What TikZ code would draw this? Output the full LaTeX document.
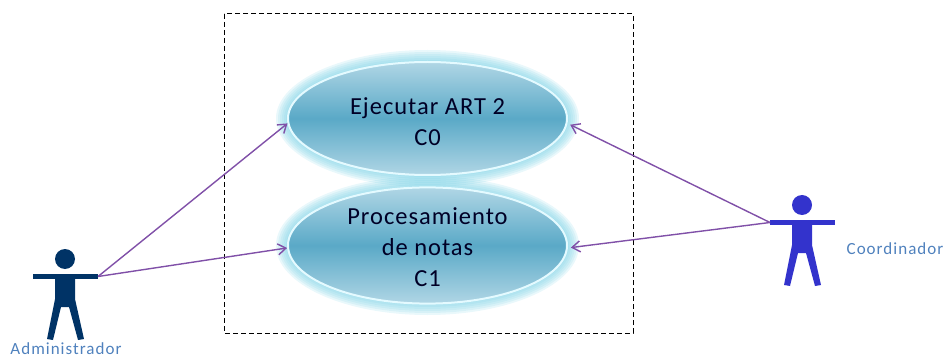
\documentclass[tikz,border=0pt]{standalone}
\usepackage{fontspec}
\setmainfont{Carlito}
\usetikzlibrary{shapes.geometric,arrows.meta}
\definecolor{glowblue}{HTML}{7FD3E6}
\definecolor{casetop}{HTML}{B0D6E5}
\definecolor{casemid}{HTML}{5AA9C7}
\definecolor{caserim}{HTML}{E4FAFF}
\definecolor{linkpurple}{HTML}{8050A8}
\definecolor{adminblue}{HTML}{003366}
\definecolor{coordblue}{HTML}{3333CC}
\definecolor{actortext}{HTML}{4F81BD}
\tikzset{
    usecase/.style={ellipse,draw=caserim,line width=2pt,inner sep=0pt,minimum width=279pt,
        top color=casetop,bottom color=casetop,middle color=casemid,align=center,
        font=\fontsize{24.5}{31}\selectfont\addfontfeatures{LetterSpace=4},text=black!85!blue},
    actorlabel/.style={inner sep=0pt,font=\fontsize{17}{19}\selectfont\addfontfeatures{LetterSpace=6},text=actortext},
    link/.style={linkpurple,line width=1.4pt,-{Straight Barb[length=8pt,width=11pt]}},
    actorfig/.pic={
        \fill (0,0) circle[radius=10];
        \fill (-32,15) rectangle (33,20);
        \fill (-10,20) -- (10,20) -- (10,40) -- (19,80) -- (13,81) -- (4,48) -- (-4,48)
            -- (-12,81) -- (-18,80) -- (-10,40) -- cycle;
        \coordinate (-lefthand) at (-32,17.5);
        \coordinate (-righthand) at (33,17.5);
    }
}
\begin{document}
\begin{tikzpicture}[x=1pt,y=-1pt]
        \useasboundingbox (0,0) rectangle (947,358);
        % halo behind the two use cases
        \foreach \cy/\ry in {118.5/56.5,245.5/57.5}{
            \foreach \g in {2,4,...,12}{
                \fill[glowblue,opacity=0.17] (427.5,\cy) circle[x radius=139.5+\g,y radius=\ry+\g];
            }
        }
        \draw[dash pattern=on 5pt off 3pt,line width=1pt] (224,14) rectangle (633,333);
        \node[usecase,minimum height=113pt] (ejecutar) at (427.5,118.5) {\rule{0pt}{24pt}Ejecutar ART 2\\C0};
        \node[usecase,minimum height=115pt] (procesamiento) at (427.5,245.5) {\rule{0pt}{20pt}Procesamiento\\de notas\\C1};
        \pic[adminblue] (admin) at (65,259) {actorfig};
        \pic[coordblue] (coord) at (802,205) {actorfig};
        \node[actorlabel] (adminlabel) at (66,349) {Administrador};
        \node[actorlabel] (coordlabel) at (895,249) {Coordinador};
        \draw[link] (admin-righthand) -- (ejecutar.182);
        \draw[link] (admin-righthand) -- (procesamiento.181);
        \draw[link,shorten >=3pt] (coord-lefthand) -- (ejecutar.-2);
        \draw[link,shorten >=3pt] (coord-lefthand) -- (procesamiento.-1);
    \end{tikzpicture}
\end{document}
